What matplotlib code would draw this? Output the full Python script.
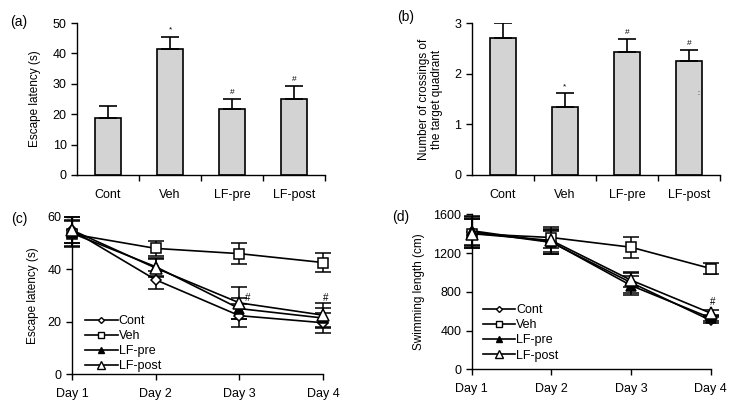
import numpy as np
import matplotlib.pyplot as plt
from matplotlib.lines import Line2D

plt.rcParams['font.family'] = ['Liberation Sans', 'DejaVu Sans']
plt.rcParams['font.size'] = 9

# ---- data ----
groups = ['Cont', 'Veh', 'LF-pre', 'LF-post']
latency_mean = [18.8, 41.4, 21.7, 25.0]
latency_err = [4.0, 4.1, 3.3, 4.4]
latency_mark = ['', '*', '#', '#']

cross_mean = [2.71, 1.35, 2.43, 2.25]
cross_err = [0.29, 0.27, 0.25, 0.22]
cross_mark = ['', '*', '#', '#']

days = ['Day 1', 'Day 2', 'Day 3', 'Day 4']
esc = {
    'Cont':    ([55.0, 36.0, 22.3, 19.6], [5.0, 3.5, 4.3, 3.8]),
    'Veh':     ([53.5, 48.0, 46.0, 42.6], [5.0, 3.0, 4.0, 3.8]),
    'LF-pre':  ([53.8, 41.0, 25.0, 21.4], [5.0, 3.5, 4.0, 4.0]),
    'LF-post': ([55.0, 40.5, 27.2, 22.5], [5.0, 3.5, 6.0, 4.6]),
}
swim = {
    'Cont':    ([1420, 1310, 895, 505], [150, 120, 110, 30]),
    'Veh':     ([1400, 1360, 1260, 1040], [150, 110, 110, 60]),
    'LF-pre':  ([1430, 1315, 865, 530], [150, 120, 100, 30]),
    'LF-post': ([1400, 1330, 920, 580], [150, 120, 70, 30]),
}
styles = {'Cont': ('D', 'white', 5), 'Veh': ('s', 'white', 7),
          'LF-pre': ('^', 'black', 7), 'LF-post': ('^', 'white', 8)}

fig = plt.figure(figsize=(7.37, 4.05), dpi=100)


def style_ax(ax):
    for s in ['top', 'right']:
        ax.spines[s].set_visible(False)
    for s in ['left', 'bottom']:
        ax.spines[s].set_linewidth(1.0)
    ax.tick_params(direction='out', length=4, width=1.0, labelsize=9)


def bar_panel(rect, means, errs, marks, ylim, yticks, ylabel, markoff):
    ax = fig.add_axes(rect)
    x = np.arange(len(groups))
    ax.bar(x, means, width=0.42, color='#d3d3d3', edgecolor='black', linewidth=1.2)
    ax.errorbar(x, means, yerr=[np.zeros(len(errs)), errs], fmt='none',
                ecolor='black', elinewidth=1.2, capsize=6.5, capthick=1.2)
    for xi, m, e, t in zip(x, means, errs, marks):
        if t:
            ax.text(xi, m + e + markoff, t, ha='center', va='bottom', fontsize=6)
    ax.set_xlim(-0.5, 3.5)
    ax.set_ylim(*ylim)
    ax.set_yticks(yticks)
    ax.set_xticks(x)
    ax.set_xticklabels(groups)
    ax.set_xticks(np.arange(0.5, 4, 1), minor=True)
    style_ax(ax)
    ax.tick_params(axis='x', which='major', length=0, pad=10)
    ax.tick_params(axis='x', which='minor', length=4, width=1.0, direction='out')
    ax.set_ylabel(ylabel, fontsize=8.5, labelpad=8)
    return ax


def line_panel(rect, data, ylim, yticks, ylabel, leg_anchor):
    ax = fig.add_axes(rect)
    x = np.arange(1, 5)
    handles = []
    for name in groups:
        mk, fc, ms = styles[name]
        vals, errs = data[name]
        ax.errorbar(x, vals, yerr=errs, color='black', lw=1.2, marker=mk,
                    mfc=fc, mec='black', ms=ms, mew=1.1, capsize=6,
                    elinewidth=1.1, capthick=1.1, clip_on=False, zorder=3)
        handles.append(Line2D([], [], color='black', lw=1.2, marker=mk, mfc=fc,
                              mec='black', ms=ms - 2, mew=1.0))
    ax.set_xlim(1, 4)
    ax.set_ylim(*ylim)
    ax.set_yticks(yticks)
    ax.set_xticks(x)
    ax.set_xticklabels(days)
    style_ax(ax)
    ax.tick_params(axis='x', pad=6)
    ax.set_ylabel(ylabel, fontsize=8.5, labelpad=6)
    ax.legend(handles, groups, loc='lower left', bbox_to_anchor=leg_anchor,
              frameon=False, handlelength=2.6, handletextpad=0.1,
              labelspacing=0.25, fontsize=9, borderaxespad=0, borderpad=0)
    return ax


bar_panel([0.1045, 0.568, 0.3365, 0.375], latency_mean, latency_err, latency_mark,
          (0, 50), range(0, 51, 10), 'Escape latency (s)', 1.0)
axb = bar_panel([0.6404, 0.568, 0.3365, 0.375], cross_mean, cross_err, cross_mark,
                (0, 3), range(0, 4), 'Number of crossings of\nthe target quadrant', 0.06)
axb.text(3.15, 1.6, ':', fontsize=5, ha='center', va='center')

axc = line_panel([0.0977, 0.0765, 0.3406, 0.3877], esc, (0, 60), range(0, 61, 20),
                 'Escape latency (s)', (0.052, 0.01))
axc.text(3.1, 29.0, '#', fontsize=7, ha='center', va='center')
axc.text(4.03, 29.0, '#', fontsize=7, ha='center', va='center')

axd = line_panel([0.640, 0.088, 0.3243, 0.383], swim, (0, 1600), range(0, 1601, 400),
                 'Swimming length (cm)', (0.046, 0.05))
axd.text(4.02, 690, '#', fontsize=7, ha='center', va='center')

# panel letters
for lab, fx, fy in [('(a)', 0.026, 0.946), ('(b)', 0.55, 0.958),
                    ('(c)', 0.026, 0.459), ('(d)', 0.544, 0.464)]:
    fig.text(fx, fy, lab, fontsize=10, ha='center', va='center')

fig.savefig('out.png', dpi=100)
